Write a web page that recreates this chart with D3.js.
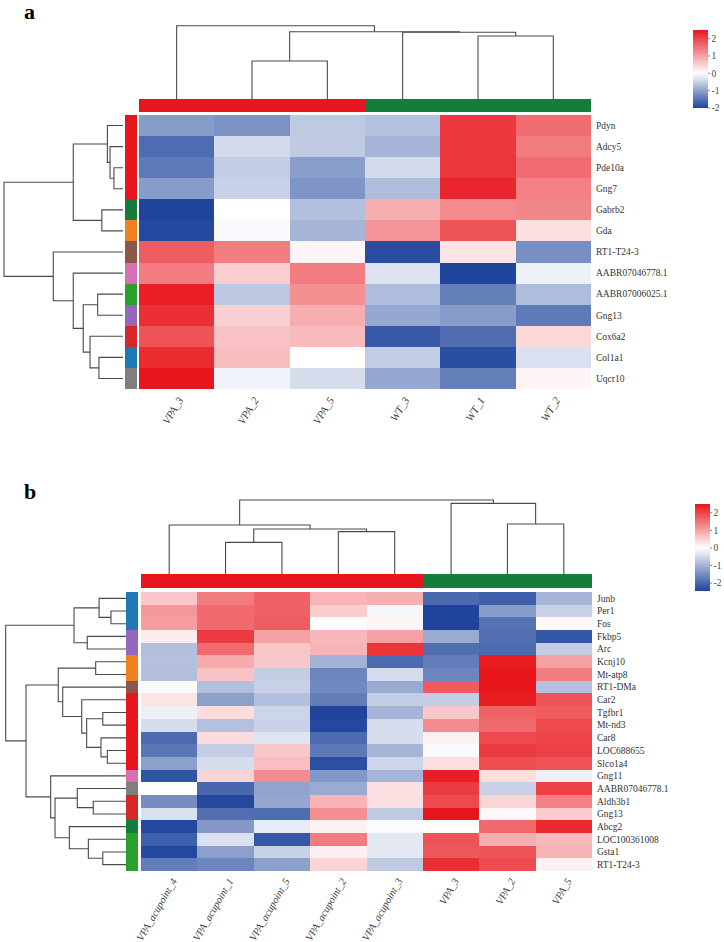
<!DOCTYPE html>
<html><head><meta charset="utf-8">
<script src="https://cdn.jsdelivr.net/npm/d3@7"></script>
<style>body{margin:0;background:#fff}svg{display:block}</style>
</head><body><svg id="c" width="724" height="942"></svg>
<script>
// ---------------- DATA ----------------
const colsA = ["VPA_3","VPA_2","VPA_5","WT_3","WT_1","WT_2"];
const colGroupA = ["VPA","VPA","VPA","WT","WT","WT"];
const rowsA = ["Pdyn","Adcy5","Pde10a","Gng7","Gabrb2","Gda","RT1-T24-3","AABR07046778.1","AABR07006025.1","Gng13","Cox6a2","Col1a1","Uqcr10"];
const rowGroupA = [1,1,1,1,2,3,4,5,6,7,8,9,10];
const valuesA = [
  [-1.06,-1.17,-0.58,-0.67, 2.12, 1.58],
  [-1.57,-0.40,-0.56,-0.80, 2.15, 1.42],
  [-1.42,-0.53,-1.04,-0.40, 2.15, 1.58],
  [-1.06,-0.49,-1.13,-0.71, 2.34, 1.36],
  [-2.00, 0.00,-0.68, 0.87, 1.25, 1.30],
  [-1.95,-0.05,-0.80, 1.14, 1.85, 0.33],
  [ 1.74, 1.41, 0.10,-1.90, 0.29,-1.20],
  [ 1.41, 0.54, 1.41,-0.30,-2.00,-0.15],
  [ 2.40,-0.60, 1.20,-0.71,-1.38,-0.71],
  [ 2.23, 0.49, 0.87,-0.93,-1.06,-1.42],
  [ 1.85, 0.65, 0.73,-1.78,-1.56, 0.43],
  [ 2.28, 0.71, 0.00,-0.53,-1.89,-0.33],
  [ 2.50,-0.13,-0.36,-0.93,-1.38, 0.10]
];
// dendrograms: [height, left, right], leaves are indices
const colTreeA = [10, 0, [9.18, [5.18, 1, 2], [9.1, 3, [8.6, 4, 5]]]];
const rowTreeA = [10, [4.18, [1.31, 0, [1.09, 1, [0.76, 2, 3]]], [1.78, 4, 5]],
                      [5.86, 6, [4.18, 7, [3.34, [2.13, 8, 9], [2.77, 10, [2.02, 11, 12]]]]]];
const legendTicksA = [2, 1, 0, -1, -2];
const legendDomainA = [-2, 2.5];

const colsB = ["VPA_acupoint_4","VPA_acupoint_1","VPA_acupoint_5","VPA_acupoint_2","VPA_acupoint_3","VPA_3","VPA_2","VPA_5"];
const colGroupB = ["VPA_acupoint","VPA_acupoint","VPA_acupoint","VPA_acupoint","VPA_acupoint","VPA","VPA","VPA"];
const rowsB = ["Junb","Per1","Fos","Fkbp5","Arc","Kcnj10","Mt-atp8","RT1-DMa","Car2","Tgfbr1","Mt-nd3","Car8","LOC688655","Slco1a4","Gng11","AABR07046778.1","Aldh3b1","Gng13","Abcg2","LOC100361008","Gsta1","RT1-T24-3"];
const rowGroupB = [9,9,9,7,7,3,3,4,1,1,1,1,1,1,5,10,8,8,2,6,6,6];
const valuesB = [
  [ 0.60, 1.40, 1.70, 0.80, 0.87,-1.96,-2.10,-0.98],
  [ 1.10, 1.60, 1.70, 0.55,-0.10,-2.45,-1.30,-0.60],
  [ 1.05, 1.60, 1.75,-0.02, 0.10,-2.45,-1.85, 0.08],
  [ 0.20, 2.10, 1.00, 0.76, 1.00,-1.10,-1.90,-2.20],
  [-0.84, 1.60, 0.60, 0.82, 2.17,-1.90,-1.95,-0.65],
  [-0.82, 0.90, 0.60,-1.00,-1.95,-1.70, 2.45, 1.00],
  [-0.84, 0.65,-0.65,-1.60,-0.47,-1.60, 2.50, 1.40],
  [-0.05,-0.84,-0.60,-1.55,-1.10, 1.75, 2.50,-0.82],
  [ 0.30,-1.25,-0.84,-1.70,-0.65,-0.65, 2.45, 1.85],
  [-0.20, 0.38,-0.55,-2.45,-0.98, 0.60, 1.70, 1.75],
  [-0.45,-0.82,-0.60,-2.40,-0.45, 1.25, 1.60, 1.95],
  [-1.95, 0.38,-0.35,-1.95,-0.45, 0.16, 1.95, 2.00],
  [-1.80,-0.65, 0.60,-1.75,-0.98,-0.07, 2.10, 2.05],
  [-1.25,-0.45, 0.70,-2.30,-0.55, 0.33, 1.90, 1.85],
  [-2.25, 0.45, 1.25,-1.35,-0.98, 2.40, 0.33,-0.20],
  [-0.02,-2.00,-1.20,-1.10, 0.33, 2.10,-0.60, 2.05],
  [-1.50,-2.40,-1.15, 0.82, 0.33, 1.95, 0.45, 1.35],
  [-0.40,-1.90,-1.93, 1.20,-0.70, 2.50, 0.08, 0.55],
  [-2.40,-1.35,-0.25, 0.15,-0.05, 0.03, 1.60, 2.30],
  [-2.10,-0.40,-2.20, 1.40,-0.30, 1.85, 0.87, 0.76],
  [-2.40,-1.25,-0.60, 0.18,-0.30, 1.80, 1.85, 0.82],
  [-1.70,-1.60,-1.25, 0.45,-0.70, 2.25, 1.90, 0.16]
];
const colTreeB = [10, [6.62, 0, [6.08, [4.28, 1, 2], [5.72, 3, 4]]], [9.55, 5, [6.76, 6, 7]]];
const rowTreeB = [10,
  [4.32, [2.24, 0, [1.25, 1, 2]], [3.22, 3, 4]],
  [8.31,
    [5.63, [2.52, 5, 6], [5.26, 7, [3.68, 8, [3.27, [1.93, 9, 10], [2.08, 11, [1.55, 12, 13]]]]]],
    [6.26, 14, [5.9, [4.05, 15, [2.72, 16, 17]], [4.71, 18, [3.13, 19, [1.93, 20, 21]]]]]]];
const legendTicksB = [2, 1, 0, -1, -2];
const legendDomainB = [-2.45, 2.5];

// ---------------- STYLE ----------------
const RED = "#e8161c", BLUE = "#1e449b", DKGREEN = "#147d3c";
const colGroupColor = {VPA: RED, WT: DKGREEN};
const colGroupColorB = {VPA_acupoint: RED, VPA: DKGREEN};
const rowGroupColor = {1: RED, 2: DKGREEN, 3: "#f08020", 4: "#8c564b", 5: "#d670b0",
  6: "#2ca02c", 7: "#9467bd", 8: "#d62728", 9: "#1f77b4", 10: "#7f7f7f"};
const SERIF = "'Liberation Serif','Times New Roman',serif";
const svg = d3.select("#c");

function drawPanel(p) {
  const g = svg.append("g");
  const color = d3.scaleLinear().domain([p.dom[0], 0, p.dom[1]]).range([BLUE, "#ffffff", RED]).interpolate(d3.interpolateRgb);
  const x = d3.scaleBand().domain(d3.range(p.cols.length)).range([p.hx0, p.hx1]).paddingInner(0);
  const y = d3.scaleBand().domain(d3.range(p.rows.length)).range([p.hy0, p.hy1]).paddingInner(0);
  const cells = g.append("g").attr("shape-rendering", "crispEdges");

  // cells
  p.values.forEach((row, i) => row.forEach((v, j) => {
    cells.append("rect").attr("x", x(j)).attr("y", y(i))
      .attr("width", x.bandwidth()).attr("height", y.bandwidth())
      .attr("fill", color(v));
  }));

  // column annotation
  p.colGroup.forEach((c, j) => {
    cells.append("rect").attr("x", x(j)).attr("y", p.cay0).attr("width", x.bandwidth())
      .attr("height", p.cay1 - p.cay0).attr("fill", p.colGroupColor[c]);
  });
  // row annotation
  p.rowGroup.forEach((c, i) => {
    cells.append("rect").attr("x", p.rax0).attr("y", y(i)).attr("width", p.rax1 - p.rax0)
      .attr("height", y.bandwidth()).attr("fill", rowGroupColor[c]);
  });

  // row labels
  p.rows.forEach((r, i) => {
    g.append("text").attr("x", p.hx1 + 5).attr("y", y(i) + y.bandwidth() / 2).attr("dy", "0.35em")
      .attr("font-family", SERIF).attr("font-size", p.rowFont).attr("fill", "#333").text(r);
  });
  // column labels
  p.cols.forEach((c, j) => {
    const cx = x(j) + x.bandwidth() / 2;
    g.append("text").attr("transform", `translate(${cx + p.clDx},${p.hy1 + p.clDy}) rotate(${p.angle})`)
      .attr("text-anchor", "end").attr("dy", "0.35em")
      .attr("font-family", SERIF).attr("font-style", "italic").attr("font-size", p.colFont)
      .attr("fill", "#444").text(c);
  });

  // column dendrogram
  const hc = d3.scaleLinear().domain([0, 10]).range([p.cdBase, p.cdTop]);
  function colNode(n) {
    if (typeof n === "number") return {x: x(n) + x.bandwidth() / 2, h: 0};
    const a = colNode(n[1]), b = colNode(n[2]);
    g.append("path").attr("d", `M${a.x},${hc(a.h)}V${hc(n[0])}H${b.x}V${hc(b.h)}`)
      .attr("fill", "none").attr("stroke", "#4a4a4a").attr("stroke-width", 1.1);
    return {x: (a.x + b.x) / 2, h: n[0]};
  }
  colNode(p.colTree);
  // row dendrogram
  const hr = d3.scaleLinear().domain([0, 10]).range([p.rdBase, p.rdTop]);
  function rowNode(n) {
    if (typeof n === "number") return {y: y(n) + y.bandwidth() / 2, h: 0};
    const a = rowNode(n[1]), b = rowNode(n[2]);
    g.append("path").attr("d", `M${hr(a.h)},${a.y}H${hr(n[0])}V${b.y}H${hr(b.h)}`)
      .attr("fill", "none").attr("stroke", "#4a4a4a").attr("stroke-width", 1.1);
    return {y: (a.y + b.y) / 2, h: n[0]};
  }
  rowNode(p.rowTree);

  // legend
  const ly = d3.scaleLinear().domain(p.dom).range([p.ly1, p.ly0]);
  const gid = "grad" + p.id;
  const grad = svg.append("defs").append("linearGradient").attr("id", gid)
    .attr("x1", 0).attr("y1", 1).attr("x2", 0).attr("y2", 0);
  d3.range(0, 1.0001, 0.05).forEach(t => {
    const v = p.dom[0] + t * (p.dom[1] - p.dom[0]);
    grad.append("stop").attr("offset", t).attr("stop-color", color(v));
  });
  g.append("rect").attr("x", p.lx0).attr("y", p.ly0).attr("width", p.lx1 - p.lx0)
    .attr("height", p.ly1 - p.ly0).attr("fill", `url(#${gid})`);
  p.ticks.forEach(t => {
    g.append("line").attr("x1", p.lx1).attr("x2", p.lx1 + 2).attr("y1", ly(t)).attr("y2", ly(t))
      .attr("stroke", "#666").attr("stroke-width", 0.8);
    g.append("text").attr("x", p.lx1 + 3.5).attr("y", ly(t)).attr("dy", "0.35em")
      .attr("font-family", SERIF).attr("font-size", 9.5).attr("fill", "#444").text(t);
  });

  // panel letter
  g.append("text").attr("x", p.letterX).attr("y", p.letterY)
    .attr("font-family", SERIF).attr("font-weight", "bold").attr("font-size", 22)
    .attr("fill", "#000").text(p.letter);
}

drawPanel({id: "A", letter: "a", letterX: 24, letterY: 19,
  cols: colsA, rows: rowsA, values: valuesA, colGroup: colGroupA, colGroupColor: colGroupColor,
  rowGroup: rowGroupA, colTree: colTreeA, rowTree: rowTreeA, dom: legendDomainA, ticks: legendTicksA,
  hx0: 139, hx1: 591, hy0: 115, hy1: 389, cay0: 99, cay1: 112, rax0: 125, rax1: 136.5,
  cdBase: 99, cdTop: 25.7, rdBase: 123, rdTop: 4,
  lx0: 693, lx1: 708, ly0: 30, ly1: 108,
  rowFont: 9.5, colFont: 11, angle: -58, clDx: 4, clDy: 9});

drawPanel({id: "B", letter: "b", letterX: 24, letterY: 499,
  cols: colsB, rows: rowsB, values: valuesB, colGroup: colGroupB, colGroupColor: colGroupColorB,
  rowGroup: rowGroupB, colTree: colTreeB, rowTree: rowTreeB, dom: legendDomainB, ticks: legendTicksB,
  hx0: 141, hx1: 592, hy0: 592, hy1: 871, cay0: 574, cay1: 588, rax0: 126, rax1: 138,
  cdBase: 574, cdTop: 500, rdBase: 126, rdTop: 5.7,
  lx0: 695, lx1: 710, ly0: 504, ly1: 591,
  rowFont: 9.5, colFont: 10.5, angle: -60, clDx: 5, clDy: 8});
</script></body></html>
